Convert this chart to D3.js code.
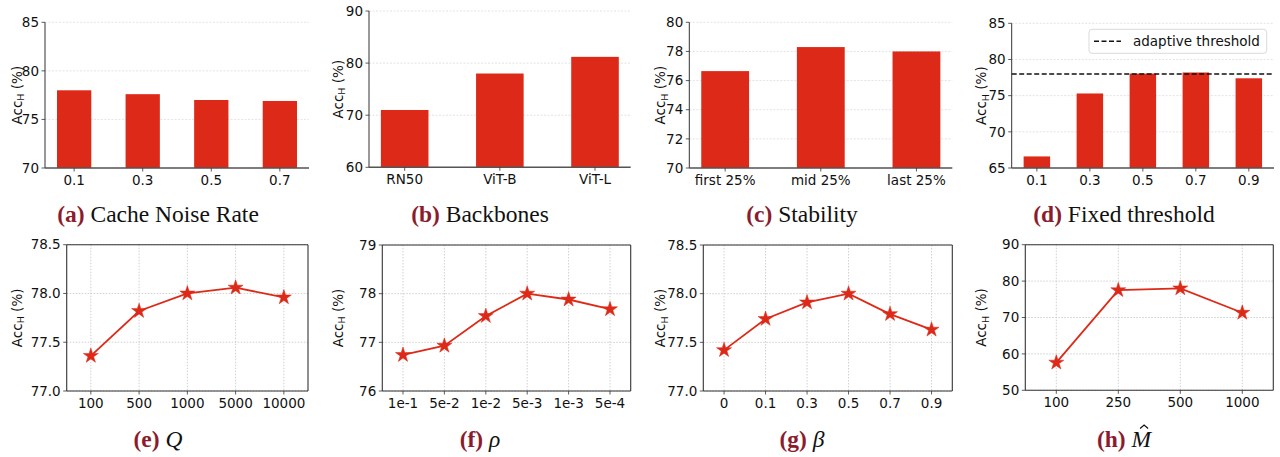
<!DOCTYPE html>
<html><head><meta charset="utf-8">
<script src="https://cdn.jsdelivr.net/npm/d3@7"></script>
<style>body{margin:0;background:#fff}svg{display:block}</style>
</head><body>
<svg id="c" width="1280" height="457"></svg>
<script>
// ---- data ----
const noiseCats = ["0.1","0.3","0.5","0.7"];
const noiseVals = [78.0, 77.6, 77.0, 76.9];
const backboneCats = ["RN50","ViT-B","ViT-L"];
const backboneVals = [71.0, 78.0, 81.2];
const stabilityCats = ["first 25%","mid 25%","last 25%"];
const stabilityVals = [76.65, 78.3, 78.0];
const fixedCats = ["0.1","0.3","0.5","0.7","0.9"];
const fixedVals = [66.6, 75.3, 78.05, 78.2, 77.4];
const adaptiveThreshold = 78.0;
const qCats = ["100","500","1000","5000","10000"];
const qVals = [77.36, 77.82, 78.0, 78.06, 77.96];
const rhoCats = ["1e-1","5e-2","1e-2","5e-3","1e-3","5e-4"];
const rhoVals = [76.74, 76.93, 77.54, 78.0, 77.88, 77.68];
const betaCats = ["0","0.1","0.3","0.5","0.7","0.9"];
const betaVals = [77.42, 77.74, 77.91, 78.0, 77.79, 77.63];
const mCats = ["100","250","500","1000"];
const mVals = [57.6, 77.5, 78.0, 71.3];
const aTicks = [70,75,80,85];
const bTicks = [60,70,80,90];
const cTicks = [70,72,74,76,78,80];
const dTicks = [65,70,75,80,85];
const eTicks = [77.0,77.5,78.0,78.5];
const fTicks = [76,77,78,79];
const gTicks = [77.0,77.5,78.0,78.5];
const hTicks = [50,60,70,80,90];

const RED = "#dd2a18";
const CAP = "#8b1c2e";
const svg = d3.select("#c");

const panels = [
  {type:"bar", cats:noiseCats, vals:noiseVals, ticks:aTicks, fmt:d3.format("d"), x0:45, x1:309, y0:22.3, y1:168, lab:17, cap:"(a)", capText:" Cache Noise Rate", capX:158},
  {type:"bar", cats:backboneCats, vals:backboneVals, ticks:bTicks, fmt:d3.format("d"), x0:369, x1:630.7, y0:11, y1:167.3, lab:338, cap:"(b)", capText:" Backbones", capX:480},
  {type:"bar", cats:stabilityCats, vals:stabilityVals, ticks:cTicks, fmt:d3.format("d"), x0:689.3, x1:952.3, y0:22.3, y1:168, lab:660.7, cap:"(c)", capText:" Stability", capX:802},
  {type:"bar", cats:fixedCats, vals:fixedVals, ticks:dTicks, fmt:d3.format("d"), x0:1011.7, x1:1274, y0:23.3, y1:168, lab:981.7, cap:"(d)", capText:" Fixed threshold", capX:1124, hline:adaptiveThreshold},
  {type:"line", cats:qCats, vals:qVals, ticks:eTicks, fmt:d3.format(".1f"), x0:66.7, x1:308, y0:244.7, y1:391, lab:17, cap:"(e)", math:"Q", capX:158},
  {type:"line", cats:rhoCats, vals:rhoVals, ticks:fTicks, fmt:d3.format("d"), x0:382.3, x1:630.7, y0:245, y1:391, lab:338, cap:"(f)", math:"ρ", capX:480},
  {type:"line", cats:betaCats, vals:betaVals, ticks:gTicks, fmt:d3.format(".1f"), x0:703.3, x1:952.3, y0:245, y1:391, lab:660.7, cap:"(g)", math:"β", capX:802},
  {type:"line", cats:mCats, vals:mVals, ticks:hTicks, fmt:d3.format("d"), x0:1025.3, x1:1273.3, y0:244.7, y1:390.3, lab:981.7, cap:"(h)", math:"M", hat:true, capX:1124}
];

panels.forEach(p => {
  const n = p.cats.length;
  const isBar = p.type === "bar";
  const dom = isBar ? [-0.25 - 0.05*(n-0.5), n-0.75 + 0.05*(n-0.5)] : [-0.5, n-0.5];
  const x = d3.scaleLinear().domain(dom).range([p.x0, p.x1]);
  const y = d3.scaleLinear().domain([p.ticks[0], p.ticks[p.ticks.length-1]]).range([p.y1, p.y0]);
  const g = svg.append("g");

  // grid
  g.selectAll(".gy").data(p.ticks).join("line")
    .attr("x1", p.x0).attr("x2", p.x1).attr("y1", d=>y(d)).attr("y2", d=>y(d))
    .attr("stroke", isBar ? "#dcdcdc" : "#c4c4c4").attr("stroke-width", 0.8)
    .attr("stroke-dasharray", isBar ? "2,1.5" : "1.5,1.5");
  if (!isBar) {
    g.selectAll(".gx").data(d3.range(n)).join("line")
      .attr("x1", d=>x(d)).attr("x2", d=>x(d)).attr("y1", p.y0).attr("y2", p.y1)
      .attr("stroke", "#c4c4c4").attr("stroke-width", 0.8).attr("stroke-dasharray", "1.5,1.5");
  }

  if (isBar) {
    g.selectAll("rect").data(p.vals).join("rect")
      .attr("x", (d,i)=>x(i-0.25)).attr("width", (d,i)=>x(i+0.25)-x(i-0.25))
      .attr("y", d=>y(d)).attr("height", d=>p.y1 - y(d)).attr("fill", RED);
    if (p.hline !== undefined) {
      g.append("line").attr("x1", p.x0).attr("x2", p.x1).attr("y1", y(p.hline)).attr("y2", y(p.hline))
        .attr("stroke", "#111").attr("stroke-width", 1.4).attr("stroke-dasharray", "5,2.5");
    }
  } else {
    const line = d3.line().x((d,i)=>x(i)).y(d=>y(d));
    g.append("path").datum(p.vals).attr("d", line).attr("fill","none").attr("stroke", RED).attr("stroke-width", 1.8);
    g.selectAll(".pt").data(p.vals).join("path")
      .attr("transform", (d,i)=>`translate(${x(i)},${y(d)})`)
      .attr("d", d3.symbol(d3.symbolStar, 70)()).attr("fill", RED).attr("stroke", RED).attr("stroke-width", 0.5);
  }

  // spines
  const sp = "#333";
  g.append("line").attr("x1", p.x0).attr("x2", p.x0).attr("y1", p.y0).attr("y2", p.y1).attr("stroke", sp).attr("stroke-width", isBar?1:1.1);
  g.append("line").attr("x1", p.x0).attr("x2", p.x1).attr("y1", p.y1).attr("y2", p.y1).attr("stroke", isBar?"#555":sp).attr("stroke-width", isBar?1.6:1.1);
  if (!isBar) {
    g.append("line").attr("x1", p.x1).attr("x2", p.x1).attr("y1", p.y0).attr("y2", p.y1).attr("stroke", sp).attr("stroke-width", 1.1);
    g.append("line").attr("x1", p.x0).attr("x2", p.x1).attr("y1", p.y0).attr("y2", p.y0).attr("stroke", sp).attr("stroke-width", 1.1);
  }

  // y ticks
  const yt = g.selectAll(".yt").data(p.ticks).join("g").attr("transform", d=>`translate(${p.x0},${y(d)})`);
  yt.append("line").attr("x1", -3.5).attr("x2", 0).attr("stroke", "#333").attr("stroke-width", 0.8);
  yt.append("text").attr("x", -6).attr("dy", "0.35em").attr("text-anchor", "end")
    .attr("font-family", "DejaVu Sans").attr("font-size", 13.5).attr("fill", "#111").text(d=>p.fmt(d));
  // x ticks
  const xt = g.selectAll(".xt").data(p.cats).join("g").attr("transform", (d,i)=>`translate(${x(i)},${p.y1})`);
  xt.append("line").attr("y1", 0).attr("y2", 3.5).attr("stroke", "#333").attr("stroke-width", 0.8);
  xt.append("text").attr("y", 6).attr("dy", "0.8em").attr("text-anchor", "middle")
    .attr("font-family", "DejaVu Sans").attr("font-size", 13.5).attr("fill", "#111").text(d=>d);

  // y label
  const yl = g.append("text").attr("transform", `translate(${p.lab + 4.5},${(p.y0+p.y1)/2}) rotate(-90)`)
    .attr("text-anchor", "middle").attr("font-family", "DejaVu Sans").attr("font-size", 13.5).attr("fill", "#111");
  yl.append("tspan").text("Acc");
  yl.append("tspan").attr("font-size", 9.5).attr("dy", 2.5).text("H");
  yl.append("tspan").attr("dy", -2.5).text(" (%)");

  // caption
  const capY = isBar ? 222 : 446.5;
  const ct = g.append("text").attr("x", p.capX).attr("y", capY).attr("text-anchor", "middle")
    .attr("font-family", "Liberation Serif").attr("font-size", 23.5).attr("fill", "#111");
  ct.append("tspan").attr("font-weight", "bold").attr("fill", CAP).text(p.cap);
  if (p.capText) ct.append("tspan").text(p.capText);
  else {
    ct.append("tspan").text(" ");
    ct.append("tspan").attr("font-style", "italic").text(p.math);
  }
  if (p.hat) {
    const len = ct.node().getComputedTextLength();
    const right = p.capX + len/2;
    const cx = right - 7;
    const hy = capY - 18;
    g.append("path").attr("d", `M${cx-4},${hy} L${cx},${hy-3.5} L${cx+4},${hy}`)
      .attr("fill", "none").attr("stroke", "#111").attr("stroke-width", 1.2);
  }

  // legend for panel d
  if (p.hline !== undefined) {
    const lg = g.append("g");
    lg.append("rect").attr("x", 1089).attr("y", 29.3).attr("width", 177.7).attr("height", 24).attr("rx", 3)
      .attr("fill", "#fff").attr("stroke", "#d0d0d0").attr("stroke-width", 0.8);
    lg.append("line").attr("x1", 1094).attr("x2", 1121).attr("y1", 41.3).attr("y2", 41.3)
      .attr("stroke", "#111").attr("stroke-width", 1.4).attr("stroke-dasharray", "5,2.5");
    lg.append("text").attr("x", 1133).attr("y", 41.3).attr("dy", "0.35em")
      .attr("font-family", "DejaVu Sans").attr("font-size", 13.5).attr("fill", "#111").text("adaptive threshold");
  }
});
</script>
</body></html>
